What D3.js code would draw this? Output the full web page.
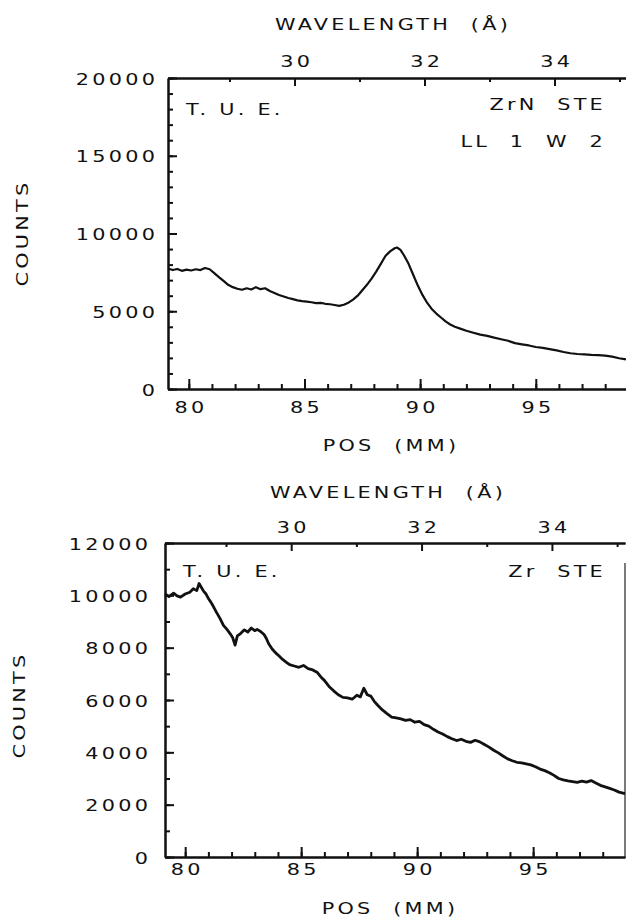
<!DOCTYPE html>
<html>
<head>
<meta charset="utf-8">
<script src="https://cdn.jsdelivr.net/npm/d3@7"></script>
<style>
body { margin: 0; background: #fff; }
svg { display: block; }
text { font-family: "DejaVu Sans", sans-serif; font-size: 16px; fill: #111; letter-spacing: 2.5px; }
</style>
</head>
<body>
<div id="chartdiv"></div>
<script>
// ZrN sample: position (mm) and counts
var zrnPos = [79.1,79.3,79.5,79.7,79.9,80.1,80.3,80.5,80.7,80.9,81.1,81.3,81.5,81.7,81.9,82.1,82.3,82.5,82.7,82.9,
  83.1,83.3,83.5,83.7,83.9,84.1,84.3,84.5,84.7,84.9,85.1,85.3,85.5,85.7,85.9,86.1,86.3,86.5,86.7,86.9,
  87.1,87.3,87.5,87.7,87.9,88.1,88.3,88.5,88.7,88.9,89.0,89.15,89.3,89.5,89.7,89.9,90.1,90.3,90.5,90.7,
  90.9,91.1,91.3,91.5,91.7,92.0,92.3,92.6,92.9,93.2,93.5,93.8,94.1,94.4,94.7,95.0,95.3,95.6,95.9,96.2,
  96.5,96.8,97.1,97.4,97.7,98.0,98.3,98.6,98.9];
var zrnCounts = [7750,7650,7720,7600,7680,7620,7700,7650,7780,7700,7450,7200,6950,6700,6550,6450,6380,6480,6400,6550,
  6420,6480,6300,6180,6050,5950,5850,5780,5700,5650,5620,5580,5520,5540,5480,5450,5400,5350,5420,5550,
  5750,6000,6350,6700,7100,7550,8050,8550,8850,9050,9100,8950,8600,8050,7350,6650,6050,5550,5150,4850,
  4600,4350,4150,4000,3900,3750,3620,3500,3420,3300,3200,3100,2950,2870,2800,2700,2640,2560,2480,2380,
  2300,2250,2230,2200,2180,2150,2080,1980,1900];

// Zr sample
var zrPos = [79.13,79.3,79.5,79.65,79.8,80.0,80.2,80.35,80.5,80.6,80.7,80.8,80.9,81.0,81.1,81.2,81.35,81.5,81.65,81.8,
  81.95,82.05,82.15,82.25,82.4,82.55,82.7,82.85,83.0,83.1,83.25,83.4,83.5,83.6,83.75,83.9,84.05,84.2,84.35,84.5,
  84.7,84.9,85.1,85.3,85.5,85.7,85.85,86.0,86.2,86.4,86.6,86.8,87.0,87.2,87.4,87.55,87.7,87.85,88.0,88.15,
  88.3,88.5,88.7,88.9,89.1,89.3,89.5,89.7,89.9,90.1,90.3,90.5,90.7,90.9,91.1,91.3,91.5,91.7,91.9,92.1,
  92.3,92.5,92.7,92.9,93.1,93.3,93.5,93.7,93.9,94.1,94.3,94.5,94.7,94.9,95.1,95.3,95.5,95.7,95.9,96.1,
  96.3,96.5,96.7,96.9,97.1,97.3,97.5,97.7,97.9,98.1,98.3,98.5,98.7,98.96];
var zrCounts = [10050,9950,10080,9980,9930,10050,10120,10250,10180,10450,10300,10150,10050,9880,9750,9600,9350,9120,8850,8700,
  8520,8380,8100,8450,8550,8680,8600,8750,8650,8700,8620,8500,8350,8150,7950,7800,7680,7550,7450,7350,
  7300,7250,7320,7200,7150,7050,6880,6750,6520,6350,6200,6100,6080,6030,6180,6120,6450,6200,6150,5950,
  5800,5620,5480,5350,5320,5280,5220,5250,5150,5180,5060,5000,4880,4780,4700,4600,4520,4450,4500,4420,
  4380,4460,4400,4300,4200,4080,3980,3860,3750,3680,3620,3600,3560,3520,3450,3360,3300,3220,3120,3000,
  2950,2910,2880,2850,2900,2860,2920,2830,2740,2680,2620,2560,2480,2420];

var posTicks = [80, 85, 90, 95];
var posMinor = d3.range(80, 99, 1);
var wlTicks = [30, 32, 34];
var wlMinor = [29, 31, 33, 35];
// wavelength calibration: angstrom -> position (mm)
var wlCalWl = [30, 32];
var wlCalPos = [84.57, 90.19];

var topCountTicks = [0, 5000, 10000, 15000, 20000];
var botCountTicks = [0, 2000, 4000, 6000, 8000, 10000, 12000];

var stretchX = 1.3;

var svg = d3.select('#chartdiv').append('svg')
  .attr('width', 626).attr('height', 920);

// widen glyphs like the plotter font, keeping each text anchored where it is
function stretch(sel) {
  sel.each(function() {
    var t = d3.select(this);
    var tr = t.attr('transform');
    if (tr) {
      t.attr('transform', tr + ' scale(' + stretchX + ',1)');
      return;
    }
    var x = +t.attr('x') || 0, y = +t.attr('y') || 0;
    t.attr('x', 0).attr('y', 0)
      .attr('transform', 'translate(' + x + ',' + y + ') scale(' + stretchX + ',1)');
  });
}

function drawPanel(cfg) {
  var data = cfg.pos.map(function(p, i) { return {x: p, y: cfg.counts[i]}; });
  var x = d3.scaleLinear().domain(cfg.xDomain).range([cfg.left, cfg.right]);
  var y = d3.scaleLinear().domain(cfg.yDomain).range([cfg.bottom, cfg.top]);
  var wlToPos = d3.scaleLinear().domain(wlCalWl).range(wlCalPos);
  var xw = d3.scaleLinear().domain(cfg.xDomain.map(wlToPos.invert)).range([cfg.left, cfg.right]);
  var g = svg.append('g');

  // bottom axis, ticks pointing up
  g.append('g').attr('transform', 'translate(0,' + cfg.bottom + ')')
    .call(d3.axisBottom(x).tickValues(posMinor).tickSize(-5).tickSizeOuter(0).tickFormat(''));
  g.append('g').attr('transform', 'translate(0,' + cfg.bottom + ')')
    .call(d3.axisBottom(x).tickValues(posTicks).tickSize(-10).tickSizeOuter(0).tickFormat(d3.format('d')))
    .selectAll('text').attr('y', cfg.xLabOff).attr('dy', 0).attr('dx', 1.25);

  // top wavelength axis, ticks pointing down
  g.append('g').attr('transform', 'translate(0,' + cfg.top + ')')
    .call(d3.axisTop(xw).tickValues(wlMinor).tickSize(-4).tickSizeOuter(0).tickFormat(''));
  g.append('g').attr('transform', 'translate(0,' + cfg.top + ')')
    .call(d3.axisTop(xw).tickValues(wlTicks).tickSize(-8).tickSizeOuter(0).tickFormat(d3.format('d')))
    .selectAll('text').attr('y', -cfg.wlLabOff).attr('dy', 0).attr('dx', 1.25);

  // left axis, ticks pointing right
  g.append('g').attr('transform', 'translate(' + cfg.left + ',0)')
    .call(d3.axisLeft(y).tickValues(d3.range(0, cfg.yDomain[1] + 1, 1000)).tickSize(-5).tickSizeOuter(0).tickFormat(''));
  g.append('g').attr('transform', 'translate(' + cfg.left + ',0)')
    .call(d3.axisLeft(y).tickValues(cfg.yTicks).tickSize(-9).tickSizeOuter(0).tickFormat(d3.format('d')))
    .selectAll('text').attr('x', -cfg.yLabOff).attr('y', 6).attr('dy', 0).attr('dx', 2.5);

  if (cfg.rightLine) {
    g.append('line').attr('x1', cfg.right).attr('x2', cfg.right)
      .attr('y1', cfg.top + 20).attr('y2', cfg.bottom)
      .attr('stroke', '#222').attr('stroke-width', 1.2);
  }

  g.selectAll('.domain').attr('stroke', '#111').attr('stroke-width', 2);
  g.selectAll('.tick line').attr('stroke', '#111').attr('stroke-width', 2);
  g.selectAll('.tick text').style('font-family', '"DejaVu Sans", sans-serif')
    .style('font-size', '16px').attr('fill', '#111').style('letter-spacing', '2.5px');

  var line = d3.line().x(function(d) { return x(d.x); }).y(function(d) { return y(d.y); });
  g.append('path').datum(data).attr('d', line)
    .attr('fill', 'none').attr('stroke', '#111')
    .attr('stroke-width', cfg.lineW).attr('stroke-linejoin', 'round');

  // labels
  g.append('text').attr('x', cfg.wlTitle[0]).attr('y', cfg.wlTitle[1])
    .attr('text-anchor', 'middle').style('white-space', 'pre').text('WAVELENGTH  (Å)');
  g.append('text').attr('x', cfg.posTitle[0]).attr('y', cfg.posTitle[1])
    .attr('text-anchor', 'middle').style('white-space', 'pre').text('POS  (MM)');
  g.append('text').attr('transform', 'translate(' + cfg.countsTitle[0] + ',' + cfg.countsTitle[1] + ') rotate(-90)')
    .attr('text-anchor', 'middle').text('COUNTS');
  g.append('text').attr('x', cfg.left + 18).attr('y', cfg.tueY).style('white-space', 'pre').text('T. U. E.');
  cfg.notes.forEach(function(n) {
    g.append('text').attr('x', 606).attr('y', n[1]).attr('text-anchor', 'end')
      .style('white-space', 'pre').text(n[0]);
  });

  stretch(g.selectAll('text'));
}

drawPanel({
  pos: zrnPos, counts: zrnCounts,
  xDomain: [79.1, 98.9], yDomain: [0, 20000], yTicks: topCountTicks,
  left: 168, right: 626, top: 78, bottom: 389,
  xLabOff: 24, wlLabOff: 11, yLabOff: 13, lineW: 2.2,
  wlTitle: [393, 30], posTitle: [391, 451], countsTitle: [28, 233],
  tueY: 115, notes: [['ZrN  STE', 110], ['LL  1  W  2', 147]],
  rightLine: false
});

drawPanel({
  pos: zrPos, counts: zrCounts,
  xDomain: [79.13, 98.96], yDomain: [0, 12000], yTicks: botCountTicks,
  left: 165, right: 625, top: 543, bottom: 857,
  xLabOff: 18, wlLabOff: 10, yLabOff: 17, lineW: 2.8,
  wlTitle: [388, 498], posTitle: [390, 914], countsTitle: [25, 705],
  tueY: 577, notes: [['Zr  STE', 577]],
  rightLine: true
});
</script>
</body>
</html>
